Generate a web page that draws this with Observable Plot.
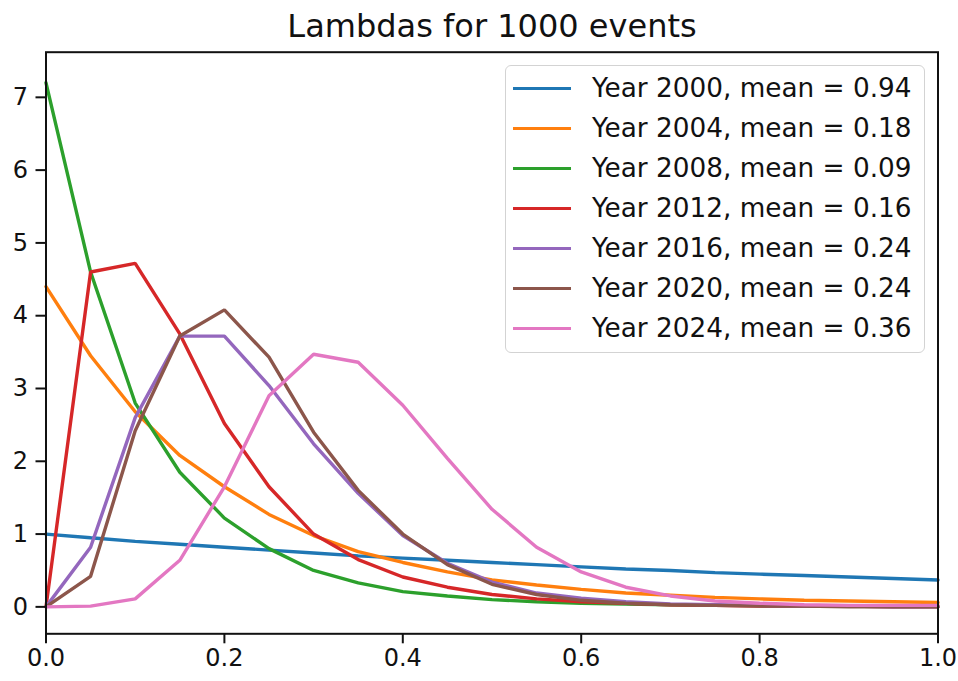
<!DOCTYPE html>
<html>
<head>
<meta charset="utf-8">
<script src="https://cdn.jsdelivr.net/npm/d3@7"></script>
<script src="https://cdn.jsdelivr.net/npm/@observablehq/plot@0.6"></script>
<style>
  html, body { margin: 0; padding: 0; background: #fff; }
  #wrap { position: relative; width: 958px; height: 681px; font-family: "DejaVu Sans", sans-serif; color: #000; }
  #title { height: 44px; line-height: 52px; text-align: center; font-size: 32px; padding-left: 26px; box-sizing: border-box; color: #111; }
  #legend { position: absolute; left: 505px; top: 65px; width: 420px; height: 288px; box-sizing: border-box;
            border: 1.5px solid #d3d3d3; border-radius: 6px; background: rgba(255,255,255,0.85); }
  .item { position: absolute; left: 0; height: 40px; width: 100%; }
  .swatch { position: absolute; left: 7px; width: 58px; height: 0; border-top: 3.6px solid; top: 17px; }
  .lab { position: absolute; left: 86px; top: 2px; font-size: 26.3px; line-height: 32px; white-space: nowrap; color: #111; }
</style>
</head>
<body>
<div id="wrap">
  <div id="title">Lambdas for 1000 events</div>
  <div id="chart"></div>
  <div id="legend"></div>
</div>
<script>
// Data
const xs = [0, 0.05, 0.1, 0.15, 0.2, 0.25, 0.3, 0.35, 0.4, 0.45, 0.5, 0.55, 0.6, 0.65, 0.7, 0.75, 0.8, 0.85, 0.9, 0.95, 1.0];
const years = [2000, 2004, 2008, 2012, 2016, 2020, 2024];
const means = ["0.94", "0.18", "0.09", "0.16", "0.24", "0.24", "0.36"];
const colors = ["#1f77b4", "#ff7f0e", "#2ca02c", "#d62728", "#9467bd", "#8c564b", "#e377c2"];
const y2000 = [1.00, 0.95, 0.90, 0.86, 0.82, 0.78, 0.74, 0.70, 0.67, 0.64, 0.61, 0.58, 0.55, 0.52, 0.50, 0.47, 0.45, 0.43, 0.41, 0.39, 0.37];
const y2004 = [4.40, 3.45, 2.68, 2.08, 1.65, 1.27, 0.98, 0.76, 0.61, 0.48, 0.37, 0.30, 0.24, 0.19, 0.16, 0.13, 0.11, 0.09, 0.08, 0.07, 0.06];
const y2008 = [7.20, 4.60, 2.80, 1.85, 1.22, 0.80, 0.50, 0.33, 0.21, 0.15, 0.10, 0.07, 0.05, 0.04, 0.03, 0.02, 0.02, 0.01, 0.01, 0.01, 0.01];
const y2012 = [0.00, 4.60, 4.72, 3.75, 2.52, 1.65, 1.00, 0.65, 0.41, 0.27, 0.17, 0.11, 0.07, 0.05, 0.03, 0.02, 0.01, 0.01, 0.01, 0.00, 0.00];
const y2016 = [0.00, 0.82, 2.60, 3.72, 3.72, 3.04, 2.24, 1.56, 0.98, 0.60, 0.34, 0.19, 0.12, 0.07, 0.04, 0.03, 0.02, 0.01, 0.01, 0.00, 0.00];
const y2020 = [0.00, 0.42, 2.42, 3.72, 4.08, 3.43, 2.40, 1.60, 1.00, 0.58, 0.31, 0.17, 0.09, 0.05, 0.03, 0.02, 0.01, 0.01, 0.00, 0.00, 0.00];
const y2024 = [0.00, 0.01, 0.11, 0.64, 1.65, 2.90, 3.47, 3.36, 2.77, 2.04, 1.34, 0.82, 0.48, 0.27, 0.15, 0.08, 0.05, 0.03, 0.02, 0.02, 0.02];
const series = [y2000, y2004, y2008, y2012, y2016, y2020, y2024];
const xTicks = [0, 0.2, 0.4, 0.6, 0.8, 1.0];
const yTicks = [0, 1, 2, 3, 4, 5, 6, 7];

const labels = years.map((yr, i) => `Year ${yr}, mean = ${means[i]}`);
const rows = [];
series.forEach((vals, i) => vals.forEach((v, j) => rows.push({x: xs[j], y: v, s: labels[i]})));

const chart = Plot.plot({
  width: 958,
  height: 637,
  marginLeft: 45.5,
  marginRight: 20.5,
  marginTop: 7.7,
  marginBottom: 47.7,
  style: {fontFamily: "DejaVu Sans", fontSize: "24px", color: "#111", background: "transparent"},
  x: {domain: [0, 1]},
  y: {domain: [-0.37, 7.62]},
  color: {domain: labels, range: colors},
  marks: [
    Plot.line(rows, {x: "x", y: "y", z: "s", stroke: "s", strokeWidth: 3.4, strokeLinejoin: "miter"}),
    Plot.frame({stroke: "#111", strokeWidth: 2}),
    Plot.axisX({ticks: xTicks, tickFormat: d3.format(".1f"), tickSize: 10, tickPadding: 5, strokeWidth: 2, fontSize: 24, label: null}),
    Plot.axisY({ticks: yTicks, tickFormat: d3.format("d"), tickSize: 10, tickPadding: 8, strokeWidth: 2, fontSize: 24, label: null})
  ]
});
document.getElementById("chart").appendChild(chart);

const legend = document.getElementById("legend");
labels.forEach((lab, i) => {
  const item = document.createElement("div");
  item.className = "item";
  item.style.top = (4 + 40 * i) + "px";
  const sw = document.createElement("div");
  sw.className = "swatch";
  sw.style.borderTopColor = colors[i];
  const tx = document.createElement("div");
  tx.className = "lab";
  tx.textContent = lab;
  item.appendChild(sw);
  item.appendChild(tx);
  legend.appendChild(item);
});
</script>
</body>
</html>
